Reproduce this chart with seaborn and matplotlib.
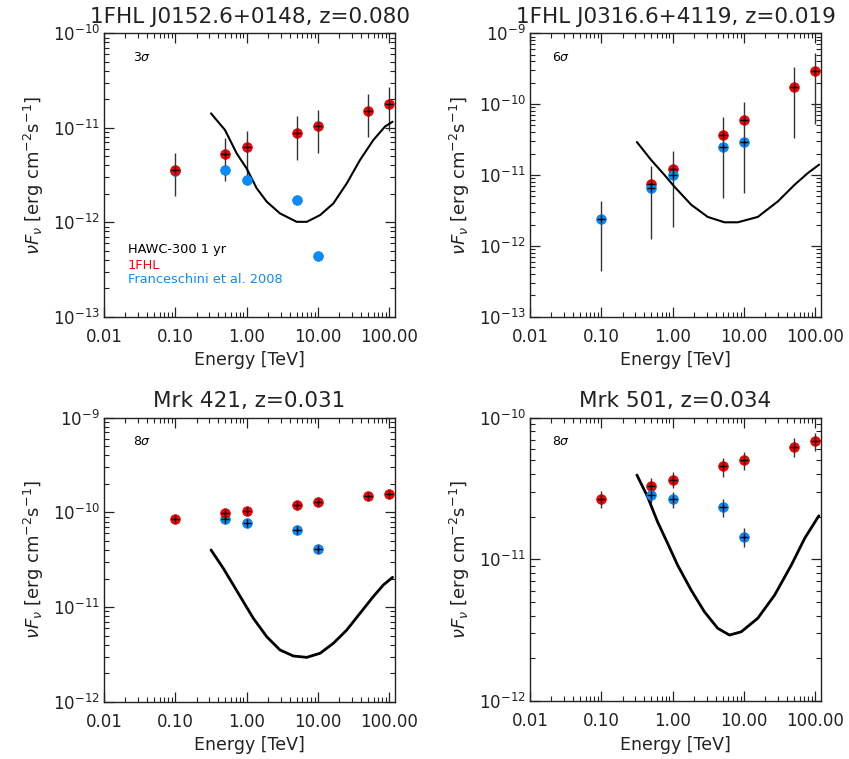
import numpy as np
import pandas as pd
import matplotlib
matplotlib.use("Agg")
import matplotlib.pyplot as plt
from matplotlib.ticker import FixedLocator, FixedFormatter, NullFormatter, LogFormatterMathtext
import seaborn as sns

nan = np.nan

# ---------------- data ----------------
energies = [0.1, 0.5, 1.0, 5.0, 10.0, 50.0, 100.0]

titles = ["1FHL J0152.6+0148, z=0.080", "1FHL J0316.6+4119, z=0.019",
          "Mrk 421, z=0.031", "Mrk 501, z=0.034"]
sigma_labels = [r"3$\sigma$", r"6$\sigma$", r"8$\sigma$", r"8$\sigma$"]
ylim_exps = [(-13, -10), (-13, -9), (-12, -9), (-12, -10)]

# 1FHL J0152.6+0148
red1 = [3.6e-12, 5.3e-12, 6.2e-12, 8.9e-12, 1.05e-11, 1.52e-11, 1.78e-11]
blue1 = [3.45e-12, 3.6e-12, 2.8e-12, 1.72e-12, 4.4e-13, nan, nan]
err_lo1 = [1.9e-12, 2.75e-12, 3.0e-12, 4.6e-12, 5.4e-12, 8.0e-12, 9.3e-12]
err_hi1 = [5.4e-12, 7.7e-12, 9.2e-12, 1.33e-11, 1.56e-11, 2.25e-11, 2.67e-11]
curve_e1 = [0.316, 0.497, 0.724, 1.0, 1.38, 1.91, 2.93, 5.02, 6.95, 10.7, 16.4, 25.3, 38.8, 59.6, 86.9, 111]
curve_f1 = [1.42e-11, 9.46e-12, 5.36e-12, 3.7e-12, 2.29e-12, 1.65e-12, 1.24e-12, 1.01e-12,
            1.01e-12, 1.19e-12, 1.58e-12, 2.58e-12, 4.56e-12, 7.41e-12, 1.03e-11, 1.16e-11]

# 1FHL J0316.6+4119
red2 = [nan, 7.55e-12, 1.2e-11, 3.62e-11, 5.9e-11, 1.77e-10, 2.92e-10]
blue2 = [2.38e-12, 6.6e-12, 9.9e-12, 2.5e-11, 2.94e-11, nan, nan]
err_lo2 = [4.35e-13, 1.24e-12, 1.83e-12, 4.7e-12, 5.5e-12, 3.36e-11, 5.3e-11]
err_hi2 = [4.3e-12, 1.34e-11, 2.18e-11, 6.6e-11, 1.06e-10, 3.3e-10, 5.2e-10]
curve_e2 = [0.315, 0.496, 0.762, 1.05, 1.81, 3.10, 5.32, 8.18, 15.6, 29.9, 51.3, 78.9, 113]
curve_f2 = [2.92e-11, 1.64e-11, 1.01e-11, 6.90e-12, 3.82e-12, 2.56e-12, 2.15e-12, 2.15e-12,
            2.56e-12, 4.25e-12, 7.30e-12, 1.07e-11, 1.40e-11]

# Mrk 421
red3 = [8.45e-11, 9.86e-11, 1.04e-10, 1.2e-10, 1.28e-10, 1.48e-10, 1.56e-10]
blue3 = [nan, 8.45e-11, 7.73e-11, 6.5e-11, 4.14e-11, nan, nan]
curve_e3 = [0.316, 0.471, 0.650, 0.897, 1.24, 1.91, 2.93, 4.51, 6.95, 10.7, 16.4, 25.3, 38.8, 59.6, 82.4, 111]
curve_f3 = [4.01e-11, 2.56e-11, 1.71e-11, 1.14e-11, 7.60e-12, 4.86e-12, 3.52e-12, 3.04e-12,
            2.94e-12, 3.25e-12, 4.14e-12, 5.72e-12, 8.59e-12, 1.29e-11, 1.71e-11, 2.06e-11]

# Mrk 501
red4 = [2.67e-11, 3.31e-11, 3.65e-11, 4.54e-11, 5.0e-11, 6.2e-11, 6.85e-11]
blue4 = [nan, 2.86e-11, 2.65e-11, 2.34e-11, 1.44e-11, nan, nan]
red_lo4 = [2.29e-11, 2.88e-11, 3.17e-11, 3.83e-11, 4.28e-11, 5.31e-11, 5.82e-11]
red_hi4 = [3.04e-11, 3.77e-11, 4.16e-11, 5.17e-11, 5.70e-11, 7.15e-11, 7.76e-11]
blue_lo4 = [nan, 2.49e-11, 2.29e-11, 1.98e-11, 1.23e-11, nan, nan]
blue_hi4 = [nan, 3.26e-11, 3.01e-11, 2.68e-11, 1.66e-11, nan, nan]
curve_e4 = [0.315, 0.444, 0.614, 0.848, 1.17, 1.81, 2.78, 4.28, 6.25, 9.14, 15.6, 26.9, 46.1, 71.0, 112]
curve_f4 = [3.94e-11, 2.77e-11, 1.84e-11, 1.30e-11, 9.12e-12, 6.08e-12, 4.27e-12, 3.26e-12,
            2.92e-12, 3.08e-12, 3.84e-12, 5.60e-12, 9.12e-12, 1.41e-11, 2.03e-11]

xtick_vals = [0.01, 0.1, 1.0, 10.0, 100.0]
xtick_labels = ["0.01", "0.10", "1.00", "10.00", "100.00"]
legend_labels = ["HAWC-300 1 yr", "1FHL", "Franceschini et al. 2008"]

RED = "#ff0000"
BLUE = "#0a8cff"

panels = [
    dict(red=red1, blue=blue1, errs=[(err_lo1, err_hi1)], ce=curve_e1, cf=curve_f1,
         cross_red=True, cross_blue=False, blue_top=False, lw=1.5, sx=0.10),
    dict(red=red2, blue=blue2, errs=[(err_lo2, err_hi2)], ce=curve_e2, cf=curve_f2,
         cross_red=True, cross_blue=True, blue_top=True, lw=1.5, sx=0.075),
    dict(red=red3, blue=blue3, errs=[], ce=curve_e3, cf=curve_f3,
         cross_red=True, cross_blue=True, blue_top=False, lw=2.0, sx=0.10),
    dict(red=red4, blue=blue4, errs=[(red_lo4, red_hi4), (blue_lo4, blue_hi4)], ce=curve_e4, cf=curve_f4,
         cross_red=True, cross_blue=True, blue_top=True, lw=2.0, sx=0.075),
]

# ---------------- figure ----------------
sns.set_theme(style="ticks")
plt.rcParams["font.family"] = ["DejaVu Sans"]
plt.rcParams["mathtext.fontset"] = "dejavusans"

W, H = 849, 759
fig = plt.figure(figsize=(W / 100, H / 100), dpi=100)
fig.patch.set_facecolor("white")

boxes = [(104, 395, 33.3, 316.7), (530, 821, 33.3, 316.7),
         (104, 395, 417.7, 701.7), (530, 821, 417.7, 701.0)]

xminor = [m * 10.0 ** e for e in range(-2, 3) for m in range(2, 10) if m * 10.0 ** e <= 120]

for i, (p, (l, r, t, b)) in enumerate(zip(panels, boxes)):
    ax = fig.add_axes([l / W, 1 - b / H, (r - l) / W, (b - t) / H])
    ax.set_xscale("log")
    ax.set_yscale("log")
    ax.set_facecolor("white")

    df = pd.DataFrame({"E": energies, "red": p["red"], "blue": p["blue"]})

    # error bars
    for lo, hi in p["errs"]:
        ax.vlines(energies, lo, hi, color="#333333", lw=1.0, zorder=2)

    # sensitivity curve
    cdf = pd.DataFrame({"E": p["ce"], "F": p["cf"]})
    sns.lineplot(data=cdf, x="E", y="F", ax=ax, color="black", lw=p["lw"],
                 sort=False, estimator=None, zorder=3)

    zr, zb = (4, 5) if p["blue_top"] else (5, 4)
    sns.scatterplot(data=df, x="E", y="red", ax=ax, color=RED, s=50,
                    edgecolor="#c00000", linewidth=0.4, zorder=zr)
    sns.scatterplot(data=df, x="E", y="blue", ax=ax, color=BLUE, s=50,
                    edgecolor="#0070d0", linewidth=0.4, zorder=zb)
    if p["cross_red"]:
        sns.scatterplot(data=df, x="E", y="red", ax=ax, marker="+", color="black",
                        s=30, linewidth=1.0, zorder=zr + 2)
    if p["cross_blue"]:
        sns.scatterplot(data=df, x="E", y="blue", ax=ax, marker="+", color="black",
                        s=30, linewidth=1.0, zorder=zb + 2)

    e0, e1 = ylim_exps[i]
    ax.set_xlim(0.01, 120)
    ax.set_ylim(10.0 ** e0, 10.0 ** e1)

    ymaj = [10.0 ** e for e in range(e0, e1 + 1)]
    ymin = [m * 10.0 ** e for e in range(e0, e1) for m in range(2, 10)]
    ax.xaxis.set_major_locator(FixedLocator(xtick_vals))
    ax.xaxis.set_major_formatter(FixedFormatter(xtick_labels))
    ax.xaxis.set_minor_locator(FixedLocator(xminor))
    ax.xaxis.set_minor_formatter(NullFormatter())
    ax.yaxis.set_major_locator(FixedLocator(ymaj))
    ax.yaxis.set_major_formatter(LogFormatterMathtext())
    ax.yaxis.set_minor_locator(FixedLocator(ymin))
    ax.yaxis.set_minor_formatter(NullFormatter())

    ax.tick_params(which="both", direction="in", top=True, right=True, colors="#222222")
    ax.tick_params(which="major", length=7, width=0.9)
    ax.tick_params(which="minor", length=3.5, width=0.8)
    ax.tick_params(axis="y", which="major", labelsize=12, pad=3)
    ax.tick_params(axis="x", which="major", labelsize=12, pad=8)
    for s in ax.spines.values():
        s.set_color("#222222")
        s.set_linewidth(1.0)

    ax.set_xlabel("Energy [TeV]", fontsize=12.5, color="#222222", labelpad=4)
    ax.set_ylabel(r"$\nu F_\nu$ [erg cm$^{-2}$s$^{-1}$]", fontsize=13, color="#222222", labelpad=5)
    ax.set_title(titles[i], fontsize=15.5, color="#222222", pad=7.5)

    ax.text(p["sx"], 0.915, sigma_labels[i], transform=ax.transAxes, fontsize=9,
            ha="left", va="center", color="black")

    if i == 0:
        for lab, col, yy in zip(legend_labels, ["black", RED, BLUE], [0.238, 0.182, 0.1295]):
            ax.text(0.081, yy, lab, transform=ax.transAxes, fontsize=9.3, color=col,
                    ha="left", va="center")

fig.savefig("out.png", dpi=100, facecolor="white")
